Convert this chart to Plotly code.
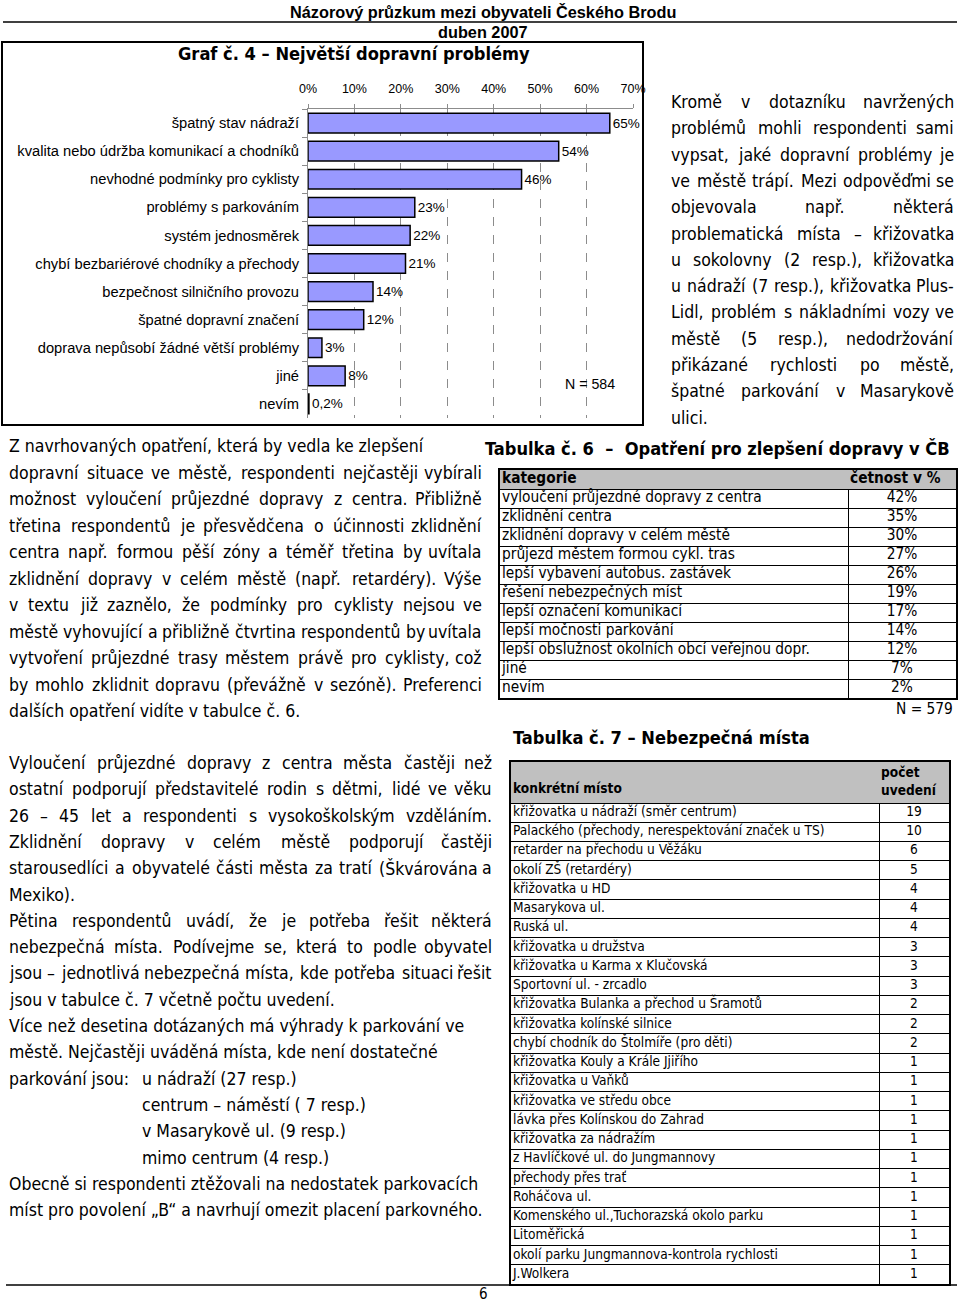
import unicodedata
import plotly.graph_objects as go

W, H = 960, 1304

# ---------------- data ----------------
header_title = "Názorový průzkum mezi obyvateli Českého Brodu"
header_date = "duben 2007"
page_no = "6"

chart_title = "Graf č. 4 – Největší dopravní problémy"
chart_n = "N = 584"
problems = [
    "špatný stav nádraží",
    "kvalita nebo údržba komunikací a chodníků",
    "nevhodné podmínky pro cyklisty",
    "problémy s parkováním",
    "systém jednosměrek",
    "chybí bezbariérové chodníky a přechody",
    "bezpečnost silničního provozu",
    "špatné dopravní značení",
    "doprava nepůsobí žádné větší problémy",
    "jiné",
    "nevím",
]
problem_pct = [65, 54, 46, 23, 22, 21, 14, 12, 3, 8, 0.2]
problem_pct_text = ["65%", "54%", "46%", "23%", "22%", "21%", "14%", "12%", "3%", "8%", "0,2%"]
pct_ticks = [0, 10, 20, 30, 40, 50, 60, 70]
pct_tick_text = ["0%", "10%", "20%", "30%", "40%", "50%", "60%", "70%"]

t6_title = "Tabulka č. 6\u00a0\u00a0–\u00a0\u00a0Opatření pro zlepšení dopravy v ČB"
t6_head = ["kategorie", "četnost v %"]
measures = [
    "vyloučení průjezdné dopravy z centra",
    "zklidnění centra",
    "zklidnění dopravy v celém městě",
    "průjezd městem formou cykl. tras",
    "lepší vybavení autobus. zastávek",
    "řešení nebezpečných míst",
    "lepší označení komunikací",
    "lepší močnosti parkování",
    "lepší obslužnost okolních obcí veřejnou dopr.",
    "jiné",
    "nevím",
]
measure_pct = ["42%", "35%", "30%", "27%", "26%", "19%", "17%", "14%", "12%", "7%", "2%"]
t6_n = "N = 579"

t7_title = "Tabulka č. 7 – Nebezpečná místa"
t7_head = ["konkrétní místo", "počet<br>uvedení"]
places = [
    "křižovatka u nádraží (směr centrum)",
    "Palackého (přechody, nerespektování značek u TS)",
    "retarder na přechodu u Věžáku",
    "okolí ZŠ (retardéry)",
    "křižovatka u HD",
    "Masarykova ul.",
    "Ruská ul.",
    "křižovatka u družstva",
    "křižovatka u Karma x Klučovská",
    "Sportovní ul. - zrcadlo",
    "křižovatka Bulanka a přechod u Šramotů",
    "křižovatka kolínské silnice",
    "chybí chodník do Štolmíře (pro děti)",
    "křižovatka Kouly a Krále Jjiřího",
    "křižovatka u Vaňků",
    "křižovatka ve středu obce",
    "lávka přes Kolínskou do Zahrad",
    "křižovatka za nádražím",
    "z Havlíčkové ul. do Jungmannovy",
    "přechody přes trať",
    "Roháčova ul.",
    "Komenského ul.,Tuchorazská okolo parku",
    "Litoměřická",
    "okolí parku Jungmannova-kontrola rychlosti",
    "J.Wolkera",
]
place_counts = [19, 10, 6, 5, 4, 4, 4, 3, 3, 3, 2, 2, 2, 1, 1, 1, 1, 1, 1, 1, 1, 1, 1, 1, 1]

text_right = [
    "Kromě v dotazníku navržených",
    "problémů mohli respondenti sami",
    "vypsat, jaké dopravní problémy je",
    "ve městě trápí. Mezi odpověďmi se",
    "objevovala např. některá",
    "problematická místa – křižovatka",
    "u sokolovny (2 resp.), křižovatka",
    "u nádraží (7 resp.), křižovatka Plus-",
    "Lidl, problém s nákladními vozy ve",
    "městě (5 resp.), nedodržování",
    "přikázané rychlosti po městě,",
    "špatné parkování v Masarykově",
    "ulici.",
]
text_left_1 = [
    "Z navrhovaných opatření, která by vedla ke zlepšení",
    "dopravní situace ve městě, respondenti nejčastěji vybírali",
    "možnost vyloučení průjezdné dopravy z centra. Přibližně",
    "třetina respondentů je přesvědčena o účinnosti zklidnění",
    "centra např. formou pěší zóny a téměř třetina by uvítala",
    "zklidnění dopravy v celém městě (např. retardéry). Výše",
    "v textu již zaznělo, že podmínky pro cyklisty nejsou ve",
    "městě vyhovující a přibližně čtvrtina respondentů by uvítala",
    "vytvoření průjezdné trasy městem právě pro cyklisty, což",
    "by mohlo zklidnit dopravu (převážně v sezóně). Preferenci",
    "dalších opatření vidíte v tabulce č. 6.",
]
text_left_2 = [
    "Vyloučení průjezdné dopravy z centra města  častěji než",
    "ostatní podporují představitelé rodin s dětmi, lidé ve věku",
    "26 – 45 let a respondenti s vysokoškolským vzděláním.",
    "Zklidnění dopravy v celém městě podporují častěji",
    "starousedlíci a obyvatelé části města za tratí (Škvárována a",
    "Mexiko).",
    "Pětina respondentů uvádí, že je potřeba řešit některá",
    "nebezpečná místa. Podívejme se, která to podle obyvatel",
    "jsou – jednotlivá nebezpečná místa, kde potřeba situaci řešit",
    "jsou v tabulce č. 7 včetně počtu uvedení.",
    "Více než desetina dotázaných má výhrady k parkování ve",
    "městě. Nejčastěji uváděná místa, kde není dostatečné",
    "parkování jsou:\tu nádraží (27 resp.)",
    "\tcentrum – náměstí ( 7 resp.)",
    "\tv Masarykově ul. (9 resp.)",
    "\tmimo centrum (4 resp.)",
    "Obecně si respondenti ztěžovali na nedostatek parkovacích",
    "míst pro povolení „B“ a navrhují omezit placení parkovného.",
]

# ---------------- styling ----------------
FONT = "DejaVu Sans Condensed, DejaVu Sans, sans-serif"
SANS = "Liberation Sans, Arial, sans-serif"
BODY = 17.5
TITLE = 18.1
TAB = 141

# rough DejaVu Sans advance widths (em), used only to justify lines
EM = {" ": .318, ",": .318, ".": .318, ":": .337, ";": .337, "(": .39, ")": .39,
      "-": .361, "–": .5, "%": .95, "„": .518, "“": .518, "'": .275}
EM.update(zip("abcdefghijklmnopqrstuvwxyz",
              [.613, .635, .55, .635, .615, .352, .635, .634, .278, .278, .579, .278, .974,
               .634, .612, .635, .635, .411, .521, .392, .634, .592, .818, .592, .592, .525]))
EM.update(zip("ABCDEFGHIJKLMNOPQRSTUVWXYZ",
              [.684, .686, .698, .77, .632, .575, .775, .752, .295, .295, .656, .557, .863,
               .748, .787, .603, .787, .695, .635, .611, .732, .684, .989, .685, .611, .685]))
EM.update({d: .636 for d in "0123456789"})


def text_w(s, size):
    return sum(EM.get(unicodedata.normalize("NFD", c)[0], .6) for c in s) * size * 0.9


def px(x):
    return x / W


def py(y):
    return 1 - y / H


fig = go.Figure()


def note(text, x, y, size=BODY, anchor="left", family=FONT):
    fig.add_annotation(text=text, x=px(x), y=py(y), xref="paper", yref="paper",
                       xanchor=anchor, yanchor="middle", showarrow=False, borderpad=0,
                       font=dict(family=family, size=size, color="black"))


def paragraph(lines, x0, x1, y0, dy, ragged=()):
    for i, line in enumerate(lines):
        y = y0 + i * dy
        left = x0
        if line.startswith("\t"):
            left, line = TAB, line[1:]
        if "\t" in line:
            head, tail = line.split("\t")
            note(head, left, y)
            note(tail, TAB, y)
            continue
        words = line.split()
        if i in ragged or len(words) < 2:
            note(line, left, y)
            continue
        widths = [text_w(w, BODY) for w in words]
        gap = max((x1 - left - sum(widths)) / (len(words) - 1), 0.25 * BODY)
        x = left
        for j, w in enumerate(words):
            if j == len(words) - 1:
                note(w, x1, y, anchor="right")
            else:
                note(w, x, y)
            x += widths[j] + gap


# ---------------- bar chart ----------------
fig.add_trace(go.Bar(
    x=problem_pct, y=problems, orientation="h",
    marker=dict(color="#9999FF", line=dict(color="black", width=1.5)),
    text=problem_pct_text, textposition="outside", constraintext="none",
    textfont=dict(family=SANS, size=13.5, color="black"),
    cliponaxis=False, hoverinfo="skip",
))

fig.update_layout(
    xaxis=dict(domain=[px(308), px(633)], range=[0, 70], side="top", anchor="y",
               tickvals=pct_ticks, ticktext=pct_tick_text,
               tickfont=dict(family=SANS, size=12.5, color="black"),
               showgrid=True, gridcolor="#8c8c8c", griddash="dash", gridwidth=1,
               showline=True, linecolor="#8c8c8c", linewidth=1,
               ticks="outside", ticklen=4, tickcolor="#8c8c8c",
               ticklabelstandoff=6, zeroline=False, fixedrange=True, automargin=False),
    yaxis=dict(domain=[py(418), py(109)], anchor="x", autorange="reversed",
               tickfont=dict(family=SANS, size=14.7, color="black"),
               showline=True, linecolor="#8c8c8c", linewidth=1,
               ticks="outside", ticklen=5, tickcolor="#8c8c8c", tickson="boundaries",
               ticklabelstandoff=5, showgrid=False, fixedrange=True, automargin=False),
    bargap=0.3,
)

fig.add_shape(type="rect", xref="paper", yref="paper",
              x0=px(2), x1=px(643), y0=py(425), y1=py(42),
              line=dict(color="black", width=2))
note("<b>" + chart_title + "</b>", 354, 54, size=TITLE, anchor="center")
note(chart_n, 590, 384, size=14.2, anchor="center", family=SANS)


# ---------------- tables ----------------
def add_table(n, x0, x1, y0, y1, div, header_h, labels, values, size):
    xa, ya = "x%d" % n, "y%d" % n
    width, height = x1 - x0, y1 - y0
    row_h = (height - header_h) / len(labels)
    bounds = [header_h + i * row_h for i in range(len(labels))]
    centers = [header_h + (i + 0.5) * row_h for i in range(len(labels))]
    axis = dict(showticklabels=False, ticks="", zeroline=False, showgrid=True,
                gridcolor="black", gridwidth=1, showline=True, mirror=True,
                linecolor="black", linewidth=2, fixedrange=True, automargin=False)
    fig.update_layout({
        "xaxis%d" % n: dict(axis, domain=[px(x0), px(x1)], range=[0, width],
                            anchor=ya, tickvals=[div]),
        "yaxis%d" % n: dict(axis, domain=[py(y1), py(y0)], range=[height, 0],
                            anchor=xa, tickvals=bounds),
    })
    fig.add_shape(type="rect", xref=xa, yref=ya, x0=0, x1=width, y0=0, y1=header_h,
                  fillcolor="#C0C0C0", line_width=0, layer="between")
    tf = dict(family=FONT, size=size, color="black")
    fig.add_trace(go.Scatter(x=[2] * len(labels), y=centers, text=labels, mode="text",
                             textposition="middle right", textfont=tf, xaxis=xa, yaxis=ya,
                             hoverinfo="skip", cliponaxis=False))
    fig.add_trace(go.Scatter(x=[(div + width) / 2] * len(values), y=centers,
                             text=[str(v) for v in values], mode="text",
                             textposition="middle center", textfont=tf, xaxis=xa, yaxis=ya,
                             hoverinfo="skip", cliponaxis=False))
    return xa, ya


xa6, ya6 = add_table(2, 500, 956, 470, 698, 348, 19, measures, measure_pct, 15.3)
fig.add_trace(go.Scatter(x=[2, 350], y=[9.5, 9.5], text=["<b>%s</b>" % t for t in t6_head],
                         mode="text", textposition="middle right",
                         textfont=dict(family=FONT, size=15.3, color="black"),
                         xaxis=xa6, yaxis=ya6, hoverinfo="skip", cliponaxis=False))
note("<b>" + t6_title + "</b>", 484, 448, size=TITLE)
note(t6_n, 954, 709, size=15.3, anchor="right")

xa7, ya7 = add_table(3, 511, 949, 762, 1284, 368, 41, places, place_counts, 13.6)
fig.add_trace(go.Scatter(x=[2, 370], y=[28, 20.5], text=["<b>%s</b>" % t for t in t7_head],
                         mode="text", textposition="middle right",
                         textfont=dict(family=FONT, size=13.6, color="black"),
                         xaxis=xa7, yaxis=ya7, hoverinfo="skip", cliponaxis=False))
note("<b>" + t7_title + "</b>", 512, 738, size=TITLE)

# ---------------- page furniture ----------------
note("<b>" + header_title + "</b>", 483, 12, size=16.3, anchor="center", family=SANS)
note("<b>" + header_date + "</b>", 483, 32, size=16.3, anchor="center", family=SANS)
fig.add_shape(type="line", xref="paper", yref="paper", x0=px(3), x1=px(957),
              y0=py(22), y1=py(22), line=dict(color="black", width=1.5))
fig.add_shape(type="line", xref="paper", yref="paper", x0=px(6), x1=px(957),
              y0=py(1285), y1=py(1285), line=dict(color="black", width=1.5))
note(page_no, 483, 1294, size=15, anchor="center")

# ---------------- text ----------------
paragraph(text_right, 670, 955, 102, 26.3, ragged={len(text_right) - 1})
paragraph(text_left_1, 8, 483, 446, 26.5, ragged={0, len(text_left_1) - 1})
paragraph(text_left_2, 8, 493, 763, 26.3, ragged={5, 9} | set(range(10, 18)))

fig.update_layout(
    width=W, height=H, margin=dict(l=0, r=0, t=0, b=0, autoexpand=False),
    paper_bgcolor="white", plot_bgcolor="white", showlegend=False,
)

fig.write_html("out.html", config={"displayModeBar": False},
               post_script="document.body.style.margin='0';document.body.style.overflow='hidden';")
